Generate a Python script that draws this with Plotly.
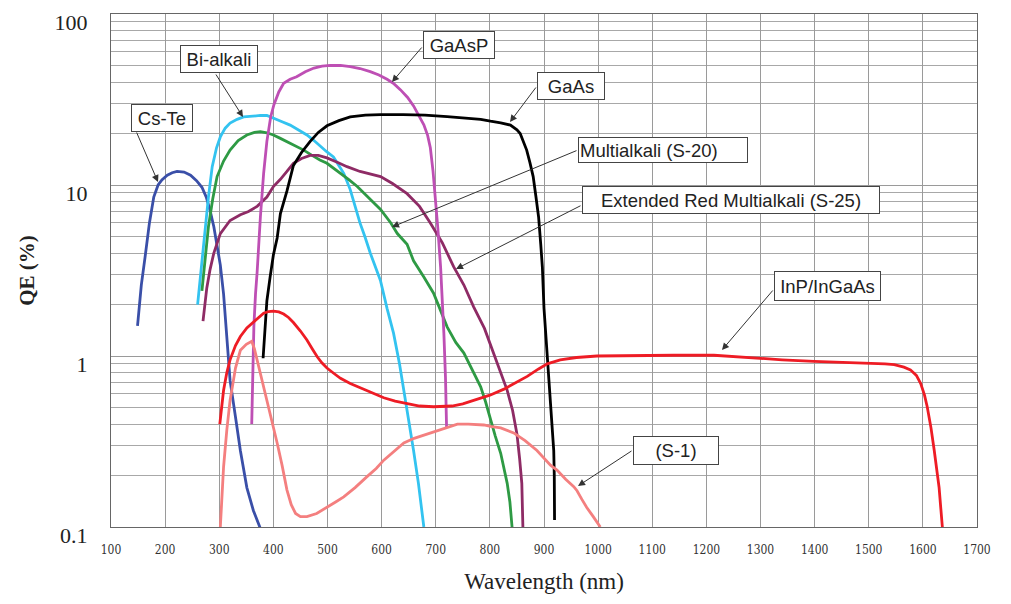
import plotly.graph_objects as go

# ---------------- data (wavelength nm, QE %) ----------------
cste_x = [149, 156, 163, 171, 179, 187, 194, 204, 213, 222, 235, 247, 258, 268, 276, 283, 290, 296, 302, 308, 314, 320, 330, 339, 351, 363, 376]
cste_y = [1.5, 2.6, 3.8, 6.0, 8.5, 10.0, 10.7, 11.4, 11.8, 12.0, 11.9, 11.4, 10.6, 9.7, 8.5, 7.1, 5.7, 4.5, 3.4, 2.3, 1.3, 0.72, 0.44, 0.28, 0.17, 0.125, 0.098]

bialk_x = [260, 267, 274, 280, 287, 295, 302, 311, 320, 333, 345, 360, 376, 388, 400, 415, 431, 446, 462, 475, 487, 499, 511, 520, 530, 542, 551, 560, 569, 579, 592, 598, 610, 622, 633, 644, 652, 659, 668, 678]
bialk_y = [2.0, 3.4, 5.7, 8.5, 12.8, 16.5, 19.1, 21.5, 23.0, 24.2, 25.0, 25.3, 25.5, 25.5, 24.5, 23.5, 22.4, 21.0, 19.6, 18.2, 16.8, 15.6, 14.6, 13.2, 11.7, 9.4, 7.5, 6.0, 5.0, 4.0, 3.1, 2.75, 1.9, 1.36, 0.9, 0.55, 0.4, 0.28, 0.18, 0.10]

s20_x = [268, 274, 280, 288, 296, 308, 320, 335, 351, 365, 376, 388, 400, 412, 425, 440, 456, 470, 486, 499, 512, 524, 540, 555, 575, 598, 617, 629, 647, 659, 678, 696, 721, 737, 752, 768, 783, 792, 801, 810, 820, 832, 837, 841]
s20_y = [2.4, 3.8, 5.7, 8.3, 11.2, 13.8, 16.0, 18.2, 19.6, 20.3, 20.5, 20.2, 19.6, 18.8, 17.9, 17.0, 16.0, 15.0, 14.0, 13.4, 12.5, 11.7, 10.7, 9.8, 8.5, 7.2, 6.0, 5.2, 4.5, 3.6, 2.9, 2.33, 1.48, 1.2, 1.04, 0.82, 0.66, 0.54, 0.42, 0.34, 0.27, 0.18, 0.14, 0.10]

s25_x = [270, 274, 277, 283, 290, 302, 320, 339, 354, 370, 388, 400, 413, 425, 437, 452, 468, 483, 499, 518, 536, 560, 585, 598, 620, 647, 670, 690, 712, 733, 752, 770, 790, 807, 820, 832, 842, 850, 855, 859, 861]
s25_y = [1.6, 2.1, 2.5, 3.2, 4.0, 5.2, 6.2, 6.7, 7.0, 7.5, 8.5, 9.8, 10.8, 12.0, 13.4, 14.3, 14.9, 14.9, 14.4, 13.6, 12.8, 12.0, 11.4, 11.2, 10.2, 8.9, 7.5, 6.0, 4.6, 3.33, 2.6, 1.94, 1.45, 1.04, 0.82, 0.63, 0.48, 0.35, 0.25, 0.18, 0.10]

gaasp_x = [360, 362, 364, 367, 370, 376, 382, 388, 395, 401, 410, 419, 431, 443, 459, 475, 490, 505, 524, 542, 560, 579, 595, 610, 623, 635, 648, 659, 669, 678, 685, 690, 695, 700, 704, 709, 713, 715, 718, 720]
gaasp_y = [0.4, 0.9, 1.5, 2.3, 3.1, 6.5, 11.7, 18.0, 25.0, 29.5, 35.0, 39.3, 41.5, 43.0, 46.0, 48.3, 49.5, 50.1, 50.0, 49.2, 48.0, 46.0, 44.0, 41.5, 39.0, 36.0, 32.5, 29.0, 25.5, 22.5, 19.5, 16.5, 12.0, 8.0, 5.5, 3.3, 1.9, 1.36, 0.75, 0.38]

gaas_x = [381, 384, 388, 394, 400, 407, 413, 425, 437, 452, 468, 483, 499, 521, 542, 570, 598, 640, 680, 721, 760, 783, 801, 820, 838, 850, 856, 862, 868, 874, 880, 885, 890, 894, 897, 900, 903, 906, 909, 912, 915, 918, 919, 919.5]
gaas_y = [0.97, 1.4, 2.1, 2.9, 3.9, 4.9, 6.8, 9.2, 13.0, 15.5, 18.0, 20.3, 22.2, 23.8, 25.0, 25.6, 25.8, 25.8, 25.6, 25.1, 24.6, 24.2, 23.6, 23.1, 22.4, 21.0, 20.0, 18.0, 16.0, 13.5, 11.2, 8.6, 6.5, 4.5, 3.3, 1.9, 1.35, 1.04, 0.75, 0.55, 0.4, 0.28, 0.2, 0.11]

inp_x = [301, 304, 308, 314, 320, 330, 339, 351, 364, 373, 382, 391, 400, 410, 419, 428, 437, 450, 462, 472, 481, 490, 499, 512, 524, 542, 561, 580, 604, 625, 647, 670, 696, 709, 730, 750, 770, 800, 826, 857, 869, 890, 906, 930, 960, 998, 1040, 1078, 1140, 1214, 1250, 1288, 1340, 1399, 1450, 1497, 1530, 1547, 1565, 1577, 1588, 1596, 1603, 1608, 1615, 1621, 1626, 1630, 1633, 1636]
inp_y = [0.40, 0.5, 0.63, 0.8, 0.95, 1.15, 1.3, 1.46, 1.59, 1.7, 1.78, 1.82, 1.83, 1.81, 1.76, 1.68, 1.57, 1.4, 1.24, 1.1, 0.99, 0.91, 0.85, 0.79, 0.74, 0.69, 0.65, 0.61, 0.57, 0.545, 0.525, 0.51, 0.505, 0.505, 0.51, 0.525, 0.55, 0.59, 0.64, 0.72, 0.76, 0.84, 0.9, 0.95, 0.98, 1.0, 1.005, 1.01, 1.01, 1.01, 0.99, 0.97, 0.95, 0.93, 0.92, 0.91, 0.9, 0.89, 0.86, 0.83, 0.77, 0.69, 0.59, 0.505, 0.38, 0.28, 0.21, 0.17, 0.13, 0.10]

s1_x = [302, 305, 308, 314, 320, 330, 339, 350, 360, 365, 370, 379, 388, 398, 407, 416, 425, 433, 441, 450, 462, 480, 499, 515, 530, 551, 573, 590, 604, 622, 641, 660, 678, 697, 715, 728, 740, 760, 789, 801, 820, 844, 865, 887, 912, 924, 940, 955, 961, 970, 979, 991, 1004]
s1_y = [0.10, 0.16, 0.225, 0.37, 0.55, 0.85, 1.08, 1.17, 1.22, 1.1, 0.95, 0.72, 0.55, 0.41, 0.31, 0.23, 0.165, 0.135, 0.12, 0.115, 0.115, 0.12, 0.13, 0.14, 0.15, 0.17, 0.197, 0.22, 0.246, 0.275, 0.31, 0.33, 0.345, 0.36, 0.377, 0.39, 0.40, 0.40, 0.395, 0.388, 0.38, 0.355, 0.32, 0.28, 0.23, 0.215, 0.19, 0.172, 0.163, 0.145, 0.13, 0.115, 0.10]

series = [
    ("Cs-Te", cste_x, cste_y, "#3A4FA8"),
    ("Bi-alkali", bialk_x, bialk_y, "#33C3F0"),
    ("Multialkali (S-20)", s20_x, s20_y, "#2E9A44"),
    ("Extended Red Multialkali (S-25)", s25_x, s25_y, "#8E2B65"),
    ("GaAsP", gaasp_x, gaasp_y, "#BE4FB4"),
    ("GaAs", gaas_x, gaas_y, "#000000"),
    ("InP/InGaAs", inp_x, inp_y, "#EE1C25"),
    ("(S-1)", s1_x, s1_y, "#F47F7F"),
]

x_ticks = list(range(100, 1701, 100))
y_ticks = [0.1, 1, 10, 100]
y_ticktext = ["0.1", "1", "10", "100"]
y_minor = [m * d for d in (0.1, 1, 10) for m in range(2, 10)]

# ---------------- figure ----------------
fig = go.Figure()
for name, xs, ys, col in series:
    fig.add_trace(go.Scatter(x=xs, y=ys, mode="lines", name=name,
                             line=dict(color=col, width=2.8), showlegend=False,
                             hoverinfo="skip"))

# layout geometry (pixels)
L, R, T, B = 111, 34, 14, 77
W, H = 1011, 604
PW, PH = W - L - R, H - T - B


def px(xp):
    return (xp - L) / PW


def py(yp):
    return (H - B - yp) / PH


# label boxes: text, center x, center y, box w, box h, align
boxes = [
    ("Cs-Te", 162, 118, 62, 28, "center"),
    ("Bi-alkali", 219, 59, 78, 28, "center"),
    ("GaAsP", 459, 45, 72, 28, "center"),
    ("GaAs", 571, 86, 68, 28, "center"),
    ("Multialkali (S-20)", 663, 150, 170, 26, "left"),
    ("Extended Red Multialkali (S-25)", 731, 200, 298, 28, "center"),
    ("InP/InGaAs", 827, 286, 107, 30, "center"),
    ("(S-1)", 676, 450, 86, 29, "center"),
]
# arrows: tail (x,y) -> head (x,y) in pixels
arrows = [
    (136, 131, 158, 182),
    (215, 73, 243, 117),
    (423, 46, 392, 82),
    (537, 86, 510, 122),
    (578, 150, 392, 227),
    (582, 205, 456, 269),
    (774, 289, 722, 350),
    (633, 450, 578, 486),
]

annotations = []
for tx, ty, hx, hy in arrows:
    annotations.append(dict(
        x=px(hx), y=py(hy), xref="paper", yref="paper",
        ax=tx - hx, ay=ty - hy, axref="pixel", ayref="pixel",
        text="", showarrow=True, arrowhead=2, arrowsize=1.4, arrowwidth=1,
        arrowcolor="#333333", standoff=0, startstandoff=0))

for text, cx, cy, bw, bh, al in boxes:
    annotations.append(dict(
        x=px(cx), y=py(cy), xref="paper", yref="paper",
        xanchor="center", yanchor="middle", text=text, showarrow=False,
        font=dict(family="Liberation Sans, Arial, sans-serif", size=18.5, color="#222222"),
        bgcolor="white", bordercolor="#444444", borderwidth=1, borderpad=1,
        width=bw - 4, height=bh - 4, align=al))

fig.update_layout(
    width=W, height=H,
    margin=dict(l=L, r=R, t=T, b=B, pad=0, autoexpand=False),
    paper_bgcolor="white", plot_bgcolor="white",
    annotations=annotations,
    xaxis=dict(
        range=[100, 1700], tickvals=x_ticks, ticks="", automargin=False,
        showgrid=True, gridcolor="#9a9a9a", gridwidth=1,
        showline=True, linecolor="#666666", linewidth=1, mirror=True,
        zeroline=False, ticklabelstandoff=12,
        tickfont=dict(family="DejaVu Serif Condensed, Liberation Serif, serif", size=12, color="#333333"),
        title=dict(text="Wavelength (nm)", standoff=16,
                   font=dict(family="Liberation Serif, Times New Roman, serif", size=23, color="#222222")),
    ),
    yaxis=dict(
        type="log", range=[-1, 2], tickvals=y_ticks, ticktext=y_ticktext, ticks="", automargin=False,
        showgrid=True, gridcolor="#9a9a9a", gridwidth=1,
        minor=dict(tickvals=y_minor, showgrid=True, gridcolor="#a8a8a8", gridwidth=1, ticks=""),
        showline=True, linecolor="#666666", linewidth=1, mirror=True,
        zeroline=False, ticklabelstandoff=18, ticklabelshift=8, ticklabeloverflow="allow",
        tickfont=dict(family="Liberation Serif, Times New Roman, serif", size=22, color="#222222"),
        title=dict(text="<b>QE (%)</b>", standoff=14,
                   font=dict(family="Liberation Serif, Times New Roman, serif", size=21, color="#222222")),
    ),
)

fig.write_html("out.html")
